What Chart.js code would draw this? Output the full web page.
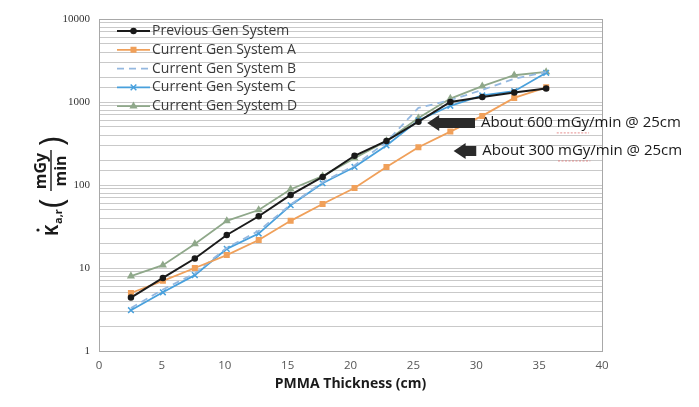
<!DOCTYPE html>
<html><head><meta charset="utf-8">
<script src="https://cdn.jsdelivr.net/npm/chart.js@4/dist/chart.umd.min.js"></script>
<style>html,body{margin:0;padding:0;background:#fff;}#wrap{width:699px;height:407px;position:relative;}</style>
</head><body><div id="wrap"><canvas id="c" width="699" height="407"></canvas></div>
<script>
const thickness = [2.54, 5.08, 7.62, 10.16, 12.7, 15.24, 17.78, 20.32, 22.86, 25.4, 27.94, 30.48, 33.02, 35.56];
const seriesNames = ['Previous Gen System','Current Gen System A','Current Gen System B','Current Gen System C','Current Gen System D'];
const prevGen = [4.4, 7.6, 13, 25, 42, 76, 125, 225, 340, 580, 1000, 1150, 1300, 1450];
const sysA = [5, 7, 10, 14.3, 21.7, 37, 59, 92, 165, 285, 440, 680, 1120, 1500];
const sysB = [3.3, 5.5, 8.6, 17.5, 28, 58, 108, 172, 330, 850, 1050, 1400, 1900, 2300];
const sysC = [3.1, 5.1, 8.2, 17, 26, 57, 105, 165, 300, 600, 900, 1200, 1350, 2250];
const sysD = [8, 10.8, 19.5, 37, 50, 89, 128, 210, 340, 640, 1100, 1550, 2100, 2300];
const xTicks = [0, 5, 10, 15, 20, 25, 30, 35, 40];
const yTickLabels = ['1', '10', '100', '1000', '10000'];
const notes = [
  {text: 'About 600 mGy/min @ 25cm', tipX: 26.1, tailX: 29.9, y: 560},
  {text: 'About 300 mGy/min @ 25cm', tipX: 28.2, tailX: 30.0, y: 257}
];

const colors = ['#1a1a1a', '#f0a05a', '#94b8e0', '#48a0dc', '#8fa88a'];
const styles = [
  {pointStyle:'circle', radius:2.5, dash:[], width:2},
  {pointStyle:'rect', radius:3.2, dash:[], width:1.8},
  {pointStyle:false, radius:0, dash:[7,5], width:1.8},
  {pointStyle:'crossRot', radius:4, dash:[], width:1.8},
  {pointStyle:'triangle', radius:3.2, dash:[], width:1.8}
];
const allSeries = [prevGen, sysA, sysB, sysC, sysD];

const datasets = allSeries.map((vals, i) => ({
  label: seriesNames[i],
  data: thickness.map((t, j) => ({x: t, y: vals[j]})),
  borderColor: colors[i],
  backgroundColor: colors[i],
  borderWidth: styles[i].width,
  borderDash: styles[i].dash,
  pointStyle: styles[i].pointStyle,
  pointRadius: styles[i].radius,
  pointBorderWidth: 1.5,
  tension: 0
}));

const customPlugin = {
  id: 'custom',
  beforeDatasetsDraw(chart) {
    const ctx = chart.ctx, a = chart.chartArea;
    ctx.save();
    ctx.strokeStyle = '#a8a8a8'; ctx.lineWidth = 1;
    ctx.strokeRect(Math.round(a.left) + 0.5, Math.round(a.top) + 0.5, Math.round(a.right - a.left), Math.round(a.bottom - a.top));
    ctx.restore();
  },
  afterDatasetsDraw(chart) {
    const ctx = chart.ctx;
    const xs = chart.scales.x, ys = chart.scales.y;
    ctx.save();
    const lx0 = 117, lx1 = 150, ly0 = 31, lstep = 18.8;
    chart.data.datasets.forEach((ds, i) => {
      const y = ly0 + i * lstep;
      ctx.strokeStyle = ds.borderColor;
      ctx.lineWidth = ds.borderWidth;
      ctx.setLineDash(ds.borderDash || []);
      ctx.beginPath(); ctx.moveTo(lx0, y); ctx.lineTo(lx1, y); ctx.stroke();
      ctx.setLineDash([]);
      if (ds.pointStyle) {
        ctx.fillStyle = ds.backgroundColor; ctx.strokeStyle = ds.borderColor; ctx.lineWidth = 1.5;
        Chart.helpers.drawPoint(ctx, {pointStyle: ds.pointStyle, radius: ds.pointRadius, rotation: 0, borderWidth: 1.5}, (lx0 + lx1) / 2, y);
      }
      ctx.fillStyle = '#3a3a3a';
      ctx.font = '14px "Open Sans"';
      ctx.textBaseline = 'middle';
      ctx.textAlign = 'left';
      ctx.fillText(ds.label, 152, y);
    });
    notes.forEach(n => {
      const tip = xs.getPixelForValue(n.tipX), tail = xs.getPixelForValue(n.tailX);
      const y = ys.getPixelForValue(n.y);
      ctx.fillStyle = '#2a2a2a';
      ctx.beginPath();
      ctx.moveTo(tip, y);
      ctx.lineTo(tip + 12, y - 8);
      ctx.lineTo(tip + 12, y - 5);
      ctx.lineTo(tail, y - 5);
      ctx.lineTo(tail, y + 5);
      ctx.lineTo(tip + 12, y + 5);
      ctx.lineTo(tip + 12, y + 8);
      ctx.closePath();
      ctx.fill();
      ctx.font = '15px "Open Sans"';
      ctx.fillStyle = '#1a1a1a';
      ctx.textBaseline = 'middle';
      ctx.textAlign = 'left';
      const tx = tail + 6;
      ctx.fillText(n.text, tx, y);
      const pre = ctx.measureText(n.text.split('mGy')[0]).width;
      const w = ctx.measureText('mGy').width;
      ctx.strokeStyle = '#e07070'; ctx.lineWidth = 0.8;
      ctx.setLineDash([2, 1.5]);
      ctx.beginPath(); ctx.moveTo(tx + pre, y + 10); ctx.lineTo(tx + pre + w, y + 10); ctx.stroke();
      ctx.setLineDash([]);
    });
    ctx.restore();
  },
  afterDraw(chart) {
    const ctx = chart.ctx;
    ctx.save();
    ctx.translate(50, 186);
    ctx.rotate(-Math.PI / 2);
    ctx.fillStyle = '#1a1a1a';
    ctx.strokeStyle = '#1a1a1a';
    ctx.textBaseline = 'alphabetic';
    ctx.textAlign = 'left';
    ctx.font = 'bold 17px "Open Sans"';
    ctx.fillText('K', -50, 8);
    ctx.beginPath(); ctx.arc(-44, -12, 1.6, 0, Math.PI * 2); ctx.fill();
    ctx.font = 'bold 11px "Open Sans"';
    ctx.fillText('a,r', -38, 12);
    ctx.font = '32px "Open Sans"';
    ctx.fillText('(', -22, 13);
    ctx.fillText(')', 40, 13);
    ctx.font = 'bold 16px "Open Sans"';
    ctx.textAlign = 'center';
    ctx.fillText('mGy', 15, -4);
    ctx.fillText('min', 15, 16);
    ctx.lineWidth = 1.4;
    ctx.beginPath(); ctx.moveTo(-5, 1); ctx.lineTo(36, 1); ctx.stroke();
    ctx.restore();
  }
};

new Chart(document.getElementById('c'), {
  type: 'line',
  data: {datasets},
  options: {
    responsive: false,
    animation: false,
    layout: {padding: {left: 0, right: 97, top: 19, bottom: 0}},
    plugins: {legend: {display: false}, tooltip: {enabled: false}},
    scales: {
      x: {
        type: 'linear', min: 0, max: 40,
        afterBuildTicks: s => { s.ticks = xTicks.map(v => ({value: v})); },
        afterFit: s => { s.height = 56; },
        grid: {display: false, drawTicks: false},
        border: {color: '#a8a8a8', width: 1},
        ticks: {color: '#555', font: {family: 'Open Sans', size: 11.5}, padding: 8, maxRotation: 0},
        title: {display: true, text: 'PMMA Thickness (cm)', color: '#1a1a1a', font: {family: 'Open Sans', size: 14, weight: 'bold'}, padding: {top: 2, bottom: 15}}
      },
      y: {
        type: 'logarithmic', min: 1, max: 10000,
        afterFit: s => { s.width = 99; },
        grid: {color: '#c9c9c9', lineWidth: 1, drawTicks: false},
        border: {color: '#a8a8a8', width: 1},
        ticks: {
          color: '#333', font: {family: 'Liberation Serif', size: 11}, padding: 9, autoSkip: false,
          callback: function(v) { const s = String(v); return yTickLabels.includes(s) ? s : ''; }
        }
      }
    }
  },
  plugins: [customPlugin]
});
</script></body></html>
